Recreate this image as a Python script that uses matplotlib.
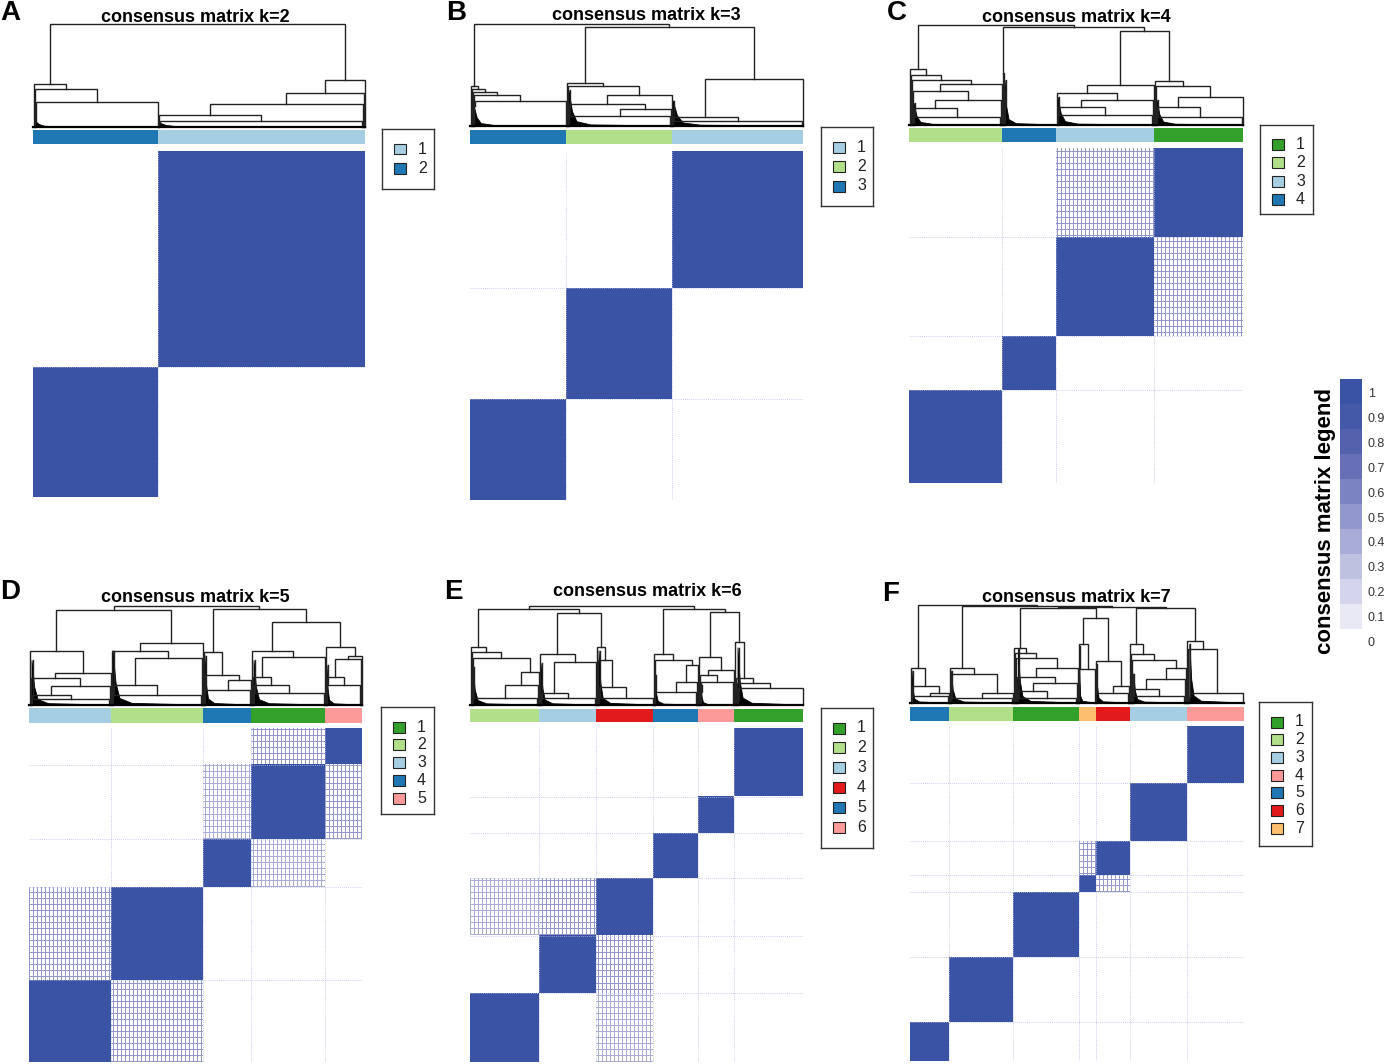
import numpy as np
import matplotlib
matplotlib.use('Agg')
import matplotlib.pyplot as plt
from matplotlib.colors import ListedColormap, BoundaryNorm
from matplotlib.patches import Polygon, Rectangle

plt.rcParams['font.family'] = ['Liberation Sans', 'DejaVu Sans']

# ---- data ----
panel_letters = ['A', 'B', 'C', 'D', 'E', 'F']
k_values = [2, 3, 4, 5, 6, 7]

# cluster labels in the order they appear left -> right
cluster_order = [[2, 1], [3, 2, 1], [2, 4, 3, 1], [3, 2, 4, 1, 5],
                 [2, 3, 4, 5, 6, 1], [5, 2, 1, 7, 6, 3, 4]]
# samples per cluster (same order)
cluster_sizes = [[125, 207], [96, 106, 131], [93, 54, 98, 89], [82, 92, 48, 74, 37],
                 [69, 57, 57, 45, 36, 69], [39, 64, 65, 17, 34, 57, 57]]

c_lb, c_db, c_lg, c_g, c_pk, c_rd, c_or = '#A6CEE3', '#1F78B4', '#B2DF8A', '#33A02C', '#FB9A99', '#E31A1C', '#FDBF6F'
# colour of cluster 1..k
label_colors = [[c_lb, c_db],
                [c_lb, c_lg, c_db],
                [c_g, c_lg, c_lb, c_db],
                [c_g, c_lg, c_lb, c_db, c_pk],
                [c_g, c_lg, c_lb, c_rd, c_db, c_pk],
                [c_g, c_lg, c_lb, c_pk, c_db, c_rd, c_or]]

# merge tree between clusters: [height, left, right], ints = cluster position
top_trees = [[1.0, 0, 1],
             [1.0, 0, [0.97, 1, 2]],
             [1.0, 0, [0.977, 1, [0.94, 2, 3]]],
             [1.0, [0.96, 0, 1], [0.97, 2, [0.835, 3, 4]]],
             [1.0, [0.973, 0, [0.933, 1, 2]], [0.973, 3, [0.94, 4, 5]]],
             [1.0, 0, [0.99, 1, [0.98, [0.965, 2, [0.863, 3, 4]], [0.97, 5, 6]]]]]

# inner staircase of every cluster: merge heights (top first) and side of the joining sample
step_heights = [
    [[0.42, 0.37, 0.24], [0.455, 0.33, 0.22, 0.12, 0.06]],
    [[0.39, 0.36, 0.33, 0.30, 0.25], [0.42, 0.39, 0.30, 0.22, 0.17, 0.10], [0.46, 0.09, 0.05]],
    [[0.555, 0.50, 0.45, 0.41, 0.34, 0.25, 0.17, 0.08], [0.52, 0.35, 0.20],
     [0.40, 0.32, 0.25, 0.18, 0.10], [0.44, 0.39, 0.28, 0.18, 0.08]],
    [[0.55, 0.32, 0.27, 0.19, 0.10, 0.06], [0.63, 0.55, 0.47, 0.20, 0.10], [0.54, 0.30, 0.25, 0.15],
     [0.55, 0.48, 0.28, 0.20, 0.12], [0.59, 0.50, 0.46, 0.28, 0.20]],
    [[0.587, 0.537, 0.47, 0.336, 0.20, 0.067], [0.52, 0.436, 0.12, 0.07], [0.587, 0.45, 0.18, 0.07],
     [0.52, 0.45, 0.40, 0.235, 0.13], [0.487, 0.35, 0.30, 0.235, 0.13], [0.64, 0.27, 0.22, 0.17, 0.05]],
    [[0.36, 0.17, 0.10, 0.07], [0.36, 0.30, 0.10, 0.05], [0.56, 0.51, 0.46, 0.36, 0.27, 0.20, 0.12, 0.05],
     [0.60, 0.35], [0.43, 0.17, 0.10], [0.60, 0.50, 0.44, 0.36, 0.24, 0.14, 0.07], [0.63, 0.55, 0.10, 0.06]],
]
step_sides = [
    ["LLR", "RRRLR"],
    ["LLLLR", "LLRLRR", "RLR"],
    ["LLLRLRLR", "LLL", "RLRLR", "LLRLR"],
    ["LRLRLR", "RLRLR", "LLRR", "LRLLR", "LRRLR"],
    ["LLLRRR", "LRLR", "LLLR", "LLRRR", "LRLRL", "LLLRL"],
    ["LLRR", "LLRR", "LLLRLRLR", "LR", "LRR", "LLLRRLR", "LLRL"],
]
# height of the dense black low-level merges at the left of each cluster
wedge_heights = [[0.06, 0.04], [0.20, 0.35, 0.25], [0.22, 0.45, 0.28, 0.25],
                 [0.45, 0.55, 0.50, 0.45, 0.40], [0.38, 0.42, 0.55, 0.30, 0.20, 0.58],
                 [0.33, 0.33, 0.55, 0.58, 0.40, 0.30, 0.60]]

# weak consensus between clusters (pos i, pos j, value on the sparse sample pairs)
faint_links = [[], [], [(2, 3, 0.4)],
               [(0, 1, 0.4), (3, 4, 0.45), (2, 3, 0.35)],
               [(1, 2, 0.4), (0, 2, 0.35)], [(3, 4, 0.45)]]

legend_ticks = [1, 0.9, 0.8, 0.7, 0.6, 0.5, 0.4, 0.3, 0.2, 0.1, 0]
legend_colors = ['#E9E9F5', '#D4D5EC', '#BFC1E1', '#A9ACD6', '#9298CB',
                 '#7B83C0', '#6770B6', '#5462AD', '#4459A8', '#3A53A4']

# ---- layout (pixels) ----
W, H = 1387, 1064
boxes = [
    dict(x=(33, 365), dend=(24, 127), strip=(130, 144), heat=(151, 497), leg=(382, 129, 434, 189), pitch=20,
         title=(195, 17), letter=(0, 0)),
    dict(x=(470, 803), dend=(24, 126), strip=(130, 144), heat=(151, 500), leg=(821, 127, 873, 206), pitch=19.5,
         title=(646, 15), letter=(446, 0)),
    dict(x=(909, 1243), dend=(25, 125), strip=(128, 142), heat=(148, 483), leg=(1260, 125, 1313, 214), pitch=18,
         title=(1076, 17), letter=(887, 0)),
    dict(x=(29, 362), dend=(606, 705), strip=(708, 723), heat=(728, 1062), leg=(381, 707, 434, 814), pitch=17.8,
         title=(195, 598), letter=(0, 579)),
    dict(x=(470, 803), dend=(606, 705), strip=(709, 722), heat=(728, 1062), leg=(821, 708, 873, 848), pitch=19.9,
         title=(647, 591), letter=(444, 579)),
    dict(x=(910, 1244), dend=(605, 703), strip=(707, 721), heat=(726, 1061), leg=(1259, 702, 1312, 846), pitch=17.7,
         title=(1076, 597), letter=(882, 581)),
]

LINE = '#222222'

fig = plt.figure(figsize=(W / 100, H / 100), dpi=100)


def px_axes(l, t, r, b):
    return fig.add_axes([l / W, 1 - b / H, (r - l) / W, (b - t) / H])


def link(ax, left, right, h):
    ax.plot([left[0], left[0], right[0], right[0]], [left[1], h, h, right[1]],
            color=LINE, lw=1.0, clip_on=False, solid_joinstyle='miter')


def draw_cluster(ax, start, n, hs, sides, hw):
    pos = []
    li, ri = 0, 0
    for s in sides:
        if s == 'L':
            pos.append(start + li + 0.5)
            li += 1
        else:
            pos.append(start + n - ri - 0.5)
            ri += 1
    a, b = start + li, start + n - ri
    w = b - a
    xs = [a, a, a + 0.035 * w, a + 0.08 * w, a + 0.22 * w, b]
    ys = [0, hw, 0.4 * hw, 0.12 * hw, 0.03 * hw, 0]
    ax.add_patch(Polygon(list(zip(xs, ys)), closed=True, fc='black', ec='black', lw=0.6))
    cur = (a + 0.5, hw)
    for i in reversed(range(len(hs))):
        single = (pos[i], 0.0)
        left, right = (single, cur) if sides[i] == 'L' else (cur, single)
        link(ax, left, right, hs[i])
        cur = ((left[0] + right[0]) / 2, hs[i])
    return cur


def draw_tree(ax, node, tops):
    if isinstance(node, int):
        return tops[node]
    h, l, r = node
    lp = draw_tree(ax, l, tops)
    rp = draw_tree(ax, r, tops)
    link(ax, lp, rp, h)
    return ((lp[0] + rp[0]) / 2, h)


heat_cmap = ListedColormap(['#FFFFFF'] + legend_colors[1:])
heat_norm = BoundaryNorm([0, 0.1, 0.2, 0.3, 0.4, 0.5, 0.6, 0.7, 0.8, 0.9, 1.01], 10)

for p in range(6):
    bx = boxes[p]
    sizes = cluster_sizes[p]
    order = cluster_order[p]
    k = k_values[p]
    n_all = sum(sizes)
    starts = np.concatenate([[0], np.cumsum(sizes)[:-1]]).astype(int)
    x0, x1 = bx['x']

    # dendrogram
    ax_d = px_axes(x0, bx['dend'][0], x1, bx['dend'][1])
    tops = [draw_cluster(ax_d, starts[i], sizes[i], step_heights[p][i], step_sides[p][i], wedge_heights[p][i])
            for i in range(k)]
    draw_tree(ax_d, top_trees[p], tops)
    ax_d.plot([0, n_all], [0, 0], color='black', lw=1.6, clip_on=False)
    ax_d.set_xlim(0, n_all)
    ax_d.set_ylim(0, 1.0)
    ax_d.axis('off')

    # cluster colour strip
    ax_s = px_axes(x0, bx['strip'][0], x1, bx['strip'][1])
    ax_s.barh(0, sizes, left=starts, height=1, color=[label_colors[p][c - 1] for c in order], lw=0)
    ax_s.set_xlim(0, n_all)
    ax_s.set_ylim(-0.5, 0.5)
    ax_s.axis('off')

    # consensus matrix: blocks on the diagonal, weak links drawn as a sparse dotted grid
    idx = np.repeat(np.arange(k), sizes)
    mat = (idx[:, None] == idx[None, :]).astype(float)
    grid = (np.arange(n_all)[:, None] % 6 == 0) | (np.arange(n_all)[None, :] % 4 == 0)
    for i, j, v in faint_links[p]:
        sel = ((idx[:, None] == i) & (idx[None, :] == j)) | ((idx[:, None] == j) & (idx[None, :] == i))
        mat[sel & grid] = v
    ax_h = px_axes(x0, bx['heat'][0], x1, bx['heat'][1])
    ax_h.imshow(mat, cmap=heat_cmap, norm=heat_norm, origin='lower', extent=(0, n_all, 0, n_all),
                interpolation='none', aspect='auto')
    for b in np.cumsum(sizes)[:-1]:
        ax_h.axvline(b, color='#B9BEE3', lw=0.6, ls=(0, (1, 1.5)), zorder=0.5)
        ax_h.axhline(b, color='#B9BEE3', lw=0.6, ls=(0, (1, 1.5)), zorder=0.5)
    ax_h.axis('off')

    # cluster legend
    ll, lt, lr, lb = bx['leg']
    ax_l = px_axes(ll, lt, lr, lb)
    ax_l.set_xlim(0, lr - ll)
    ax_l.set_ylim(lb - lt, 0)
    ax_l.set_xticks([])
    ax_l.set_yticks([])
    for s in ax_l.spines.values():
        s.set_color('#333333')
        s.set_linewidth(1.0)
    for c in range(k):
        y = 20 + c * bx['pitch']
        ax_l.add_patch(Rectangle((12, y - 5.5), 12, 11, fc=label_colors[p][c], ec='#222222', lw=0.8))
        ax_l.text(36, y, str(c + 1), fontsize=11.5, va='center', ha='left', color='#222222')

    fig.text(bx['title'][0] / W, 1 - bx['title'][1] / H, 'consensus matrix k=%d' % k,
             fontsize=13, fontweight='bold', ha='center', va='center')
    fig.text(bx['letter'][0] / W, 1 - bx['letter'][1] / H, panel_letters[p],
             fontsize=20, fontweight='bold', ha='left', va='top')

# consensus value legend
ax_c = px_axes(1340, 379, 1362, 629)
for i in range(10):
    ax_c.bar(0, 0.1, bottom=i * 0.1, width=1, color=legend_colors[i], lw=0)
ax_c.set_xlim(-0.5, 0.5)
ax_c.set_ylim(0, 1)
ax_c.axis('off')
for v in legend_ticks:
    fig.text(1368 / W, 1 - (394 + (1 - v) * 249) / H, '%g' % v, fontsize=9, color='#333333',
             ha='left', va='center')
fig.text(1325 / W, 1 - 521 / H, 'consensus matrix legend', rotation=90, fontsize=16,
         fontweight='bold', ha='center', va='center')

fig.savefig('out.png', dpi=100)
